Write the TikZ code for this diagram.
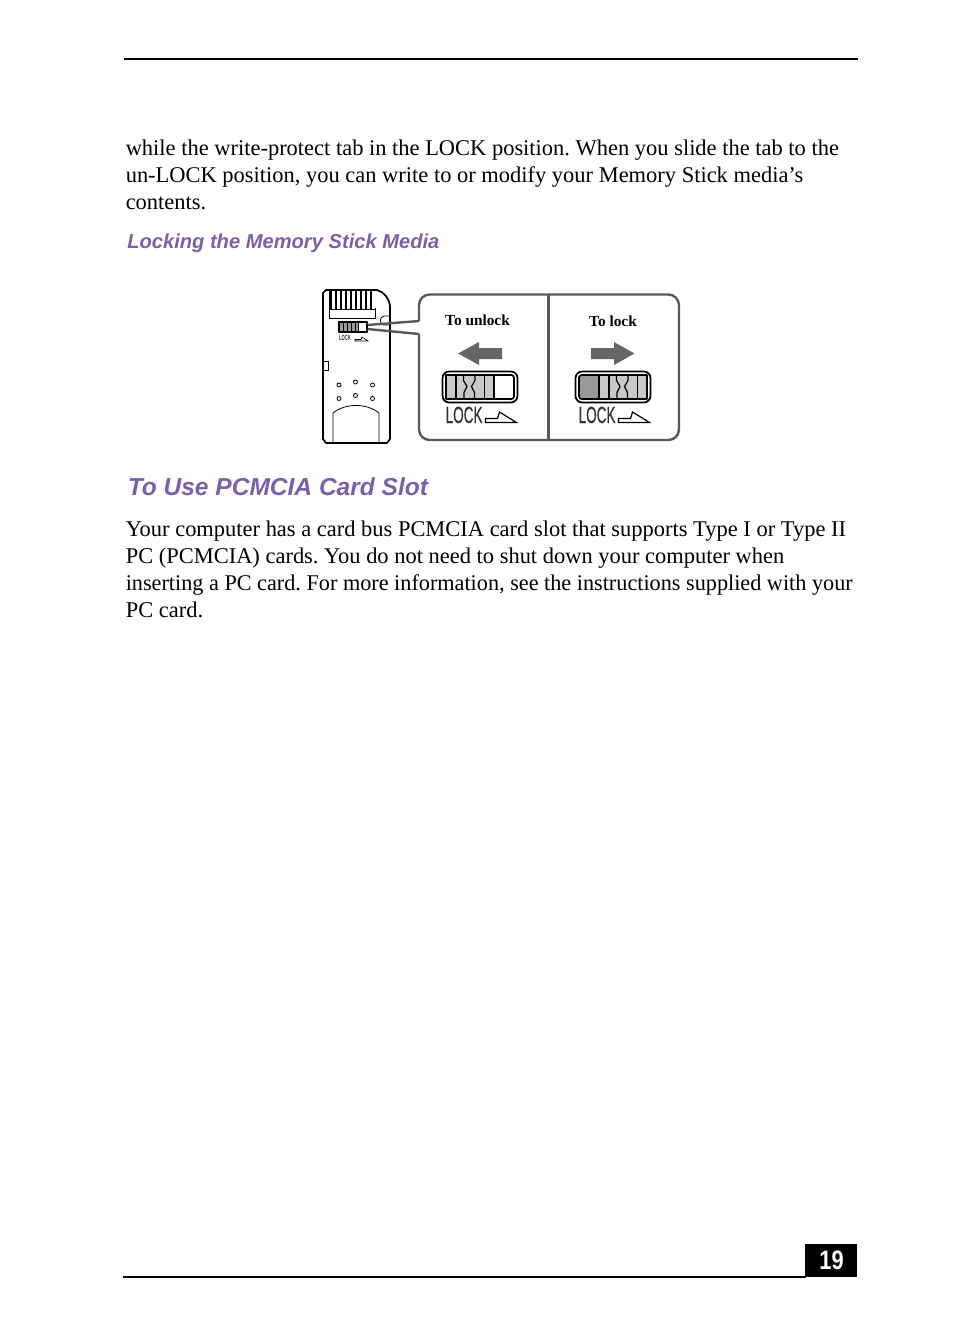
\documentclass[tikz,border=0pt]{standalone}
\usepackage{fontspec}
\setmainfont{Liberation Serif}
\setsansfont{Liberation Sans}
\newfontfamily\lockfont[FakeBold=.6]{Liberation Sans}
\usetikzlibrary{calc}
\definecolor{my-purple}{HTML}{7B5FA8}
\definecolor{my-arrow}{HTML}{666666}
\definecolor{my-light}{HTML}{C8C8C8}
\definecolor{my-dark}{HTML}{999999}
\tikzset{
    my-body/.style={
      anchor=base west, inner sep=0pt, font=\fontsize{16.85}{20}\selectfont\frenchspacing
    },
    my-small-head/.style={
      anchor=base west, inner sep=0pt, text=my-purple, font=\fontsize{15.1}{18}\sffamily\bfseries\itshape
    },
    my-big-head/.style={
      anchor=base west, inner sep=0pt, text=my-purple, font=\fontsize{18.4}{22}\sffamily\bfseries\itshape
    },
    my-tab-label/.style={
      anchor=base, inner sep=0pt, font=\fontsize{11.5}{13}\bfseries
    },
    my-lock/.style={
      anchor=base west, inner sep=0pt, xscale=.58, text=black!80, font=\fontsize{17.5}{18}\lockfont
    },
    my-rule/.style={
      line width=1.5pt
    },
    my-card/.style={
      line width=1.3pt, line join=round
    },
    my-thin/.style={
      line width=.9pt
    },
    my-fine/.style={
      line width=.6pt
    },
    my-callout/.style={
      line width=1.8pt, draw=black!65
    },
    my-hole/.style={
      line width=.6pt
    },
}

\begin{document}
\begin{tikzpicture}[x=.75pt, y=-.75pt]
        \useasboundingbox (0,0) rectangle (954,1340);

        % PAGE RULES
        \coordinate (TOPL) at (124,59);
        \coordinate (TOPR) at (858,59);
        \coordinate (BOTL) at (123,1276.5);
        \coordinate (BOTR) at (806,1276.5);
        \draw[my-rule] (TOPL) -- (TOPR);
        \draw[my-rule] (BOTL) -- (BOTR);

        % PAGE NUMBER
        \fill (805,1244) rectangle (857,1277);
        \node[inner sep=0pt, xscale=.82, text=white, font=\fontsize{20}{22}\sffamily\bfseries] (PAGE) at (831.5,1260.5) {19};

        % TEXT ABOVE
        \node[my-body] (LINE1) at (125.5,155.5) {while the write-protect tab in the LOCK position. When you slide the tab to the};
        \node[my-body] (LINE2) at ($(LINE1.base west) + (0,27)$) {un-LOCK position, you can write to or modify your Memory Stick media’s};
        \node[my-body] (LINE3) at ($(LINE2.base west) + (0,27)$) {contents.};

        % HEADINGS
        \node[my-small-head] (HEAD1) at (127,248) {Locking the Memory Stick Media};
        \node[my-big-head]   (HEAD2) at (127.5,495.5) {To Use PCMCIA Card Slot};

        % TEXT BELOW
        \node[my-body] (LINE4) at (125.5,536) {Your computer has a card bus PCMCIA card slot that supports Type I or Type II};
        \node[my-body] (LINE5) at ($(LINE4.base west) + (0,27)$) {PC (PCMCIA) cards. You do not need to shut down your computer when};
        \node[my-body, xscale=.989] (LINE6) at ($(LINE5.base west) + (0,27)$) {inserting a PC card. For more information, see the instructions supplied with your};
        \node[my-body] (LINE7) at ($(LINE6.base west) + (0,27)$) {PC card.};

        % CARD OUTLINE
        \draw[my-card] (326,290) -- (377,290) .. controls (384,292) and (389,298) .. (390,306)
            -- (390,439) -- (387,443) -- (326,443) -- (323,439) -- (323,293) -- cycle;

        % CARD CONTACTS
        \draw[my-fine] (329,290) -- (329,318) -- (375,318) -- (375,308);
        \draw[line width=1.1pt] (331,291) -- (331,309) (336,291) -- (336,309) (341,291) -- (341,309)
            (346,291) -- (346,309) (351,291) -- (351,309) (356,291) -- (356,309)
            (361,291) -- (361,309) (366,291) -- (366,309) (371,291) -- (371,309);
        \draw[my-fine] (329,309) -- (375,309);

        % CARD NOTCHES
        \draw[my-fine] (390,316) -- (384,316) .. controls (379,317) and (379,324) .. (384,325) -- (390,325);
        \draw[my-fine] (323,361) -- (328,361) -- (328,370) -- (323,370);

        % CARD SLIDER
        \draw[my-card, fill=white] (339,322) rectangle (367,332);
        \fill[my-dark] (339,322) rectangle (358,332);
        \draw[my-fine] (343,322) -- (343,332) (347,322) -- (347,332) (351,322) -- (351,332) (355,322) -- (355,332) (358,322) -- (358,332);
        \draw[my-card] (339,322) rectangle (367,332);
        \node[my-lock, xscale=.95, font=\fontsize{5.6}{6}\sffamily\bfseries] (CARDLOCK) at (339,340) {LOCK};
        \coordinate (CARDWEDGE) at (355,341);
        \draw[line width=.5pt] (CARDWEDGE) -- ($(CARDWEDGE) + (0,-1.5)$) -- ($(CARDWEDGE) + (6,-1.5)$) -- ($(CARDWEDGE) + (7,-4)$) -- ($(CARDWEDGE) + (13,0)$) -- cycle;

        % CARD HOLES
        \draw[my-hole] (339,385) circle (2);
        \draw[my-hole] (355.5,382) circle (2);
        \draw[my-hole] (372.5,385) circle (2);
        \draw[my-hole] (339,398.5) circle (2);
        \draw[my-hole] (355.5,395.5) circle (2);
        \draw[my-hole] (372.5,398.5) circle (2);

        % CARD SLOT
        \draw[my-fine] (333,443) -- (333,413) .. controls (345,403) and (367,403) .. (379,413) -- (379,443);

        % CALLOUT
        \coordinate (CALLIN1) at (419,321);
        \coordinate (CALLIN2) at (419,334);
        \draw[my-callout, rounded corners=8] (CALLIN1) -- (419,294.5) -- (679,294.5) -- (679,440) -- (419,440) -- (CALLIN2);
        \draw[my-callout] (367.5,325) -- (CALLIN1);
        \draw[my-callout] (367.5,329) -- (CALLIN2);
        \draw[my-callout] (548.5,294.5) -- (548.5,440);

        % TAB LABELS
        \node[my-tab-label] (UNLOCK) at (477.5,325) {To unlock};
        \node[my-tab-label] (LOCKTXT) at (613,326) {To lock};

        % ARROWS
        \fill[my-arrow] (458,353.5) -- (479,342) -- (479,348) -- (502,348) -- (502,359) -- (479,359) -- (479,365) -- cycle;
        \fill[my-arrow] (634.5,353.5) -- (614,342) -- (614,348) -- (591,348) -- (591,359) -- (614,359) -- (614,365) -- cycle;

        % SWITCH ONE
        \coordinate (SW1) at (442.5,371.5);
        \draw[my-card, rounded corners=5] (SW1) rectangle ($(SW1) + (75,31)$);
        \draw[my-card, fill=white, rounded corners=2] ($(SW1) + (3.5,3.5)$) rectangle ($(SW1) + (71.5,27.5)$);
        \draw[my-card, fill=my-light] ($(SW1) + (3.5,3.5)$) rectangle ($(SW1) + (51.5,27.5)$);
        \draw[my-thin] ($(SW1) + (13.5,3.5)$) -- ($(SW1) + (13.5,27.5)$);
        \draw[my-thin] ($(SW1) + (21,3.5)$) -- ($(SW1) + (21,9)$) -- ($(SW1) + (24.5,15)$) -- ($(SW1) + (21.5,21)$) -- ($(SW1) + (21.5,27.5)$);
        \draw[my-thin] ($(SW1) + (32.5,3.5)$) -- ($(SW1) + (32.5,9)$) -- ($(SW1) + (29,15)$) -- ($(SW1) + (32,21)$) -- ($(SW1) + (32,27.5)$);
        \draw[my-thin] ($(SW1) + (42,3.5)$) -- ($(SW1) + (42,27.5)$);
        \node[my-lock] (LOCK1) at ($(SW1) + (3,51.5)$) {LOCK};
        \draw[my-thin] ($(SW1) + (43,51)$) -- ($(SW1) + (43,47)$) -- ($(SW1) + (55,47)$) -- ($(SW1) + (57,40.5)$) -- ($(SW1) + (74,51)$) -- cycle;

        % SWITCH TWO
        \coordinate (SW2) at (575.5,371.5);
        \draw[my-card, rounded corners=5] (SW2) rectangle ($(SW2) + (75,31)$);
        \draw[my-card, fill=my-dark, rounded corners=2] ($(SW2) + (3.5,3.5)$) rectangle ($(SW2) + (71.5,27.5)$);
        \draw[my-card, fill=my-light] ($(SW2) + (23.5,3.5)$) rectangle ($(SW2) + (71.5,27.5)$);
        \draw[my-thin] ($(SW2) + (33.5,3.5)$) -- ($(SW2) + (33.5,27.5)$);
        \draw[my-thin] ($(SW2) + (41,3.5)$) -- ($(SW2) + (41,9)$) -- ($(SW2) + (44.5,15)$) -- ($(SW2) + (41.5,21)$) -- ($(SW2) + (41.5,27.5)$);
        \draw[my-thin] ($(SW2) + (52.5,3.5)$) -- ($(SW2) + (52.5,9)$) -- ($(SW2) + (49,15)$) -- ($(SW2) + (52,21)$) -- ($(SW2) + (52,27.5)$);
        \draw[my-thin] ($(SW2) + (62,3.5)$) -- ($(SW2) + (62,27.5)$);
        \node[my-lock] (LOCK2) at ($(SW2) + (3,51.5)$) {LOCK};
        \draw[my-thin] ($(SW2) + (43,51)$) -- ($(SW2) + (43,47)$) -- ($(SW2) + (55,47)$) -- ($(SW2) + (57,40.5)$) -- ($(SW2) + (74,51)$) -- cycle;

\end{tikzpicture}
\end{document}
